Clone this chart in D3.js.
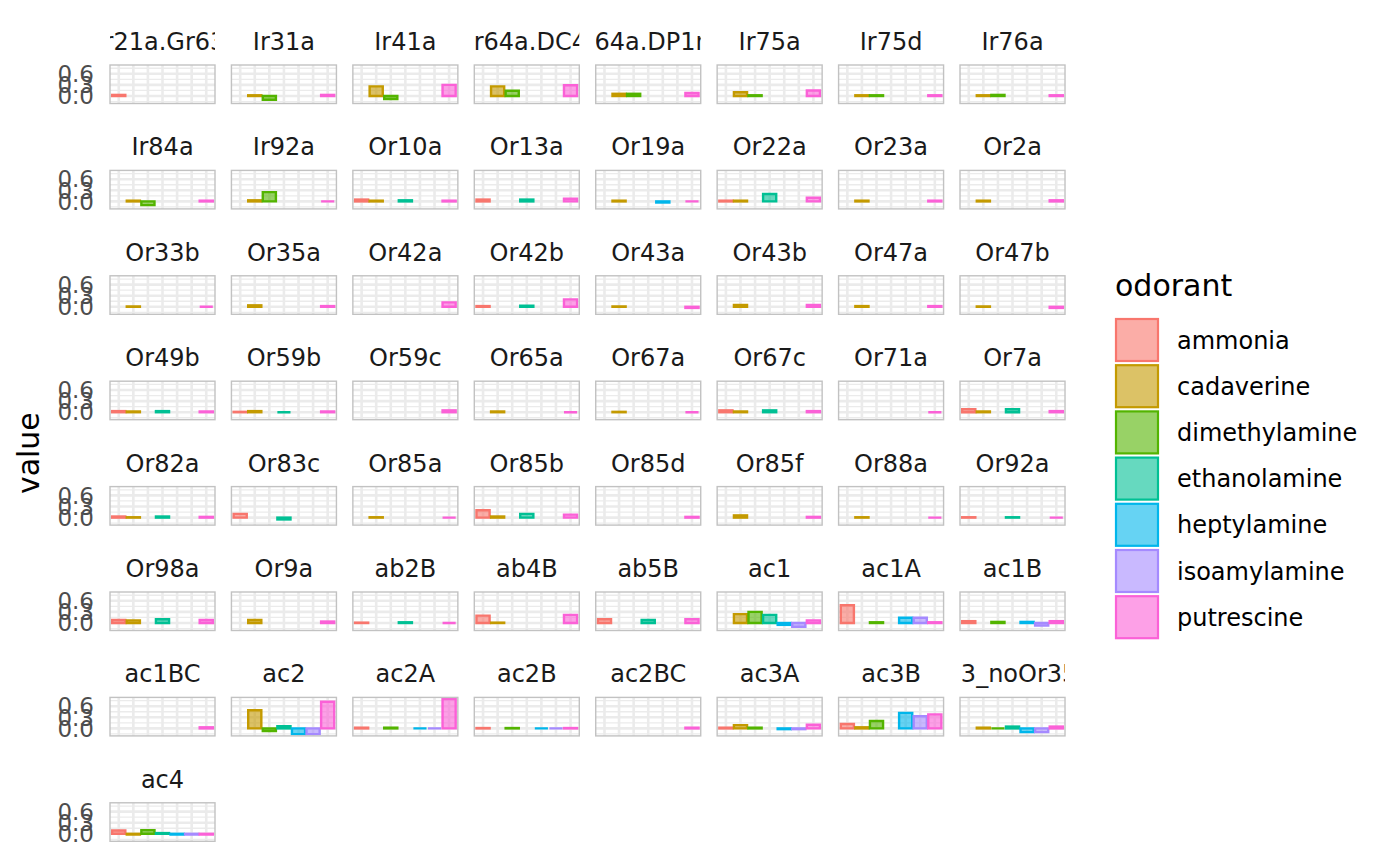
<!DOCTYPE html>
<html><head><meta charset="utf-8">
<script src="https://cdn.jsdelivr.net/npm/d3@7"></script>
<style>body{margin:0;background:#fff} text{font-family:"DejaVu Sans",sans-serif}</style>
</head><body><svg id="c" width="1400" height="866"></svg>
<script>
const _ = null;
const odorants = ["ammonia","cadaverine","dimethylamine","ethanolamine","heptylamine","isoamylamine","putrescine"];
const odorantColors = ["#F8766D","#C49A00","#53B400","#00C094","#00B6EB","#A58AFF","#FB61D7"];
const panels = ["Gr21a.Gr63a","Ir31a","Ir41a","Ir64a.DC4","Ir64a.DP1m","Ir75a","Ir75d","Ir76a",
  "Ir84a","Ir92a","Or10a","Or13a","Or19a","Or22a","Or23a","Or2a",
  "Or33b","Or35a","Or42a","Or42b","Or43a","Or43b","Or47a","Or47b",
  "Or49b","Or59b","Or59c","Or65a","Or67a","Or67c","Or71a","Or7a",
  "Or82a","Or83c","Or85a","Or85b","Or85d","Or85f","Or88a","Or92a",
  "Or98a","Or9a","ab2B","ab4B","ab5B","ac1","ac1A","ac1B",
  "ac1BC","ac2","ac2A","ac2B","ac2BC","ac3A","ac3B","ac3_noOr35a",
  "ac4"];
const ammonia = [0.03,_,_,_,_,_,_,_,
  _,_,0.05,0.05,_,0.02,_,_,
  _,_,_,0.02,_,_,_,_,
  0.03,0.01,_,_,_,0.05,_,0.08,
  0.03,0.1,_,0.2,_,_,_,0.01,
  0.08,_,0.01,0.2,0.1,_,0.48,0.05,
  _,_,0.02,0.01,_,0.02,0.12,_,
  0.09];
const cadaverine = [_,0.02,0.26,0.26,0.06,0.1,0.02,0.02,
  0.02,0.03,0.02,_,0.02,0.02,0.02,0.02,
  0.01,0.04,_,_,0.01,0.05,0.02,0.01,
  0.02,0.03,_,0.02,0.01,0.02,_,0.02,
  0.01,_,0.01,0.03,_,0.06,0.01,_,
  0.07,0.08,_,0.01,_,0.24,_,_,
  _,0.49,_,_,_,0.09,0.03,0.02,
  -0.02];
const dimethylamine = [_,-0.1,-0.08,0.14,0.06,0.02,0.02,0.03,
  -0.1,0.25,_,_,_,_,_,_,
  _,_,_,_,_,_,_,_,
  _,_,_,_,_,_,_,_,
  _,_,_,_,_,_,_,_,
  _,_,_,_,_,0.3,0.02,0.03,
  _,-0.07,0.02,0.01,_,0.02,0.2,0.0,
  0.1];
const ethanolamine = [_,_,_,_,_,_,_,_,
  _,_,0.03,0.05,_,0.2,_,_,
  _,_,_,0.03,_,_,_,_,
  0.03,0.0,_,_,_,0.05,_,0.08,
  0.03,-0.05,_,0.1,_,_,_,0.01,
  0.1,_,0.02,_,0.08,0.22,_,_,
  _,0.06,_,_,_,_,_,0.05,
  0.02];
const heptylamine = [_,_,_,_,_,_,_,_,
  _,_,_,_,-0.03,_,_,_,
  _,_,_,_,_,_,_,_,
  _,_,_,_,_,_,_,_,
  _,_,_,_,_,_,_,_,
  _,_,_,_,_,-0.05,0.14,0.03,
  _,-0.155,0.0,0.0,_,-0.02,0.42,-0.1,
  -0.02];
const isoamylamine = [_,_,_,_,_,_,_,_,
  _,_,_,_,_,_,_,_,
  _,_,_,_,_,_,_,_,
  _,_,_,_,_,_,_,_,
  _,_,_,_,_,_,_,_,
  _,_,_,_,_,-0.1,0.14,-0.07,
  _,-0.155,0.0,0.0,_,-0.02,0.33,-0.1,
  -0.02];
const putrescine = [_,0.03,0.3,0.29,0.08,0.15,0.02,0.02,
  0.02,0.0,0.02,0.07,0.0,0.1,0.02,0.03,
  0.0,0.02,0.12,0.2,-0.03,0.05,0.02,-0.03,
  0.02,0.02,0.05,0.0,0.0,0.03,0.0,0.03,
  0.02,_,0.0,0.08,0.02,0.02,0.0,0.0,
  0.08,0.04,0.0,0.22,0.1,0.07,0.02,0.05,
  0.03,0.72,0.79,0.01,0.02,0.1,0.38,0.05,
  -0.02];
const yBreaks = [0, 0.3, 0.6];
const yBreakLabels = ["0.0","0.3","0.6"];

const series = [ammonia,cadaverine,dimethylamine,ethanolamine,heptylamine,isoamylamine,putrescine];

// layout
const ncol = 8, panelW = 105, panelH = 38.5, left0 = 110, top0 = 65, colStep = 121.43, rowStep = 105.4;
const svg = d3.select("#c");
const color = d3.scaleOrdinal().domain(odorants).range(odorantColors);

const allVals = series.flat().filter(v => v !== null);
const vmin = Math.min(0, d3.min(allVals)), vmax = Math.max(0, d3.max(allVals));
const ex = (vmax - vmin) * 0.05;
const y = d3.scaleLinear().domain([vmin - ex, vmax + ex]).range([panelH, 0]);
const x = d3.scaleBand().domain(odorants).range([0, panelW]).paddingInner(0.1).paddingOuter(0.15);

// minor breaks
const step = yBreaks[1] - yBreaks[0];
const ext = [yBreaks[0] - step, ...yBreaks, yBreaks[yBreaks.length-1] + step];
const minor = [];
for (let i = 0; i < ext.length - 1; i++) minor.push((ext[i] + ext[i+1]) / 2);
const [d0, d1] = y.domain();
const minorIn = minor.filter(v => v >= d0 && v <= d1);

const defs = svg.append("defs");

panels.forEach((name, p) => {
  const c = p % ncol, r = Math.floor(p / ncol);
  const px = left0 + c * colStep, py = top0 + r * rowStep;
  const g = svg.append("g").attr("transform", `translate(${px},${py})`);
  // grid
  g.selectAll(".mi").data(minorIn).join("line")
    .attr("x1", 0).attr("x2", panelW).attr("y1", d => y(d)).attr("y2", d => y(d))
    .attr("stroke", "#EBEBEB").attr("stroke-width", 1.3);
  g.selectAll(".ma").data(yBreaks).join("line")
    .attr("x1", 0).attr("x2", panelW).attr("y1", d => y(d)).attr("y2", d => y(d))
    .attr("stroke", "#EBEBEB").attr("stroke-width", 2.6);
  g.selectAll(".mx").data(odorants).join("line")
    .attr("y1", 0).attr("y2", panelH)
    .attr("x1", d => x(d) + x.bandwidth()/2).attr("x2", d => x(d) + x.bandwidth()/2)
    .attr("stroke", "#EBEBEB").attr("stroke-width", 2.6);
  // bars (paths so that zero-height bars still show their outline)
  const data = odorants.map((o, i) => ({o, v: series[i][p]})).filter(d => d.v !== null);
  g.selectAll(".bar").data(data).join("path")
    .attr("d", d => {
      const x0 = x(d.o), w = x.bandwidth();
      const yt = y(Math.max(0, d.v)), yb = y(Math.min(0, d.v));
      return `M${x0},${yt}H${x0 + w}V${yb}H${x0}Z`;
    })
    .attr("fill", d => color(d.o)).attr("fill-opacity", 0.6)
    .attr("stroke", d => color(d.o)).attr("stroke-width", 2.4)
    .attr("stroke-linejoin", "miter");
  // border
  g.append("rect").attr("width", panelW).attr("height", panelH)
    .attr("fill", "none").attr("stroke", "#C2C2C2").attr("stroke-width", 1.4);
  // strip
  const cid = "clip" + p;
  defs.append("clipPath").attr("id", cid).append("rect")
    .attr("x", px).attr("y", py - 40).attr("width", panelW).attr("height", 38);
  svg.append("text").attr("clip-path", `url(#${cid})`)
    .attr("x", px + panelW/2).attr("y", py - 15)
    .attr("text-anchor", "middle").attr("font-size", 24).attr("fill", "#1A1A1A")
    .text(name);
  // y axis labels on first column
  if (c === 0) {
    svg.append("g").selectAll("text").data(yBreaks).join("text")
      .attr("x", px - 16).attr("y", d => py + y(d))
      .attr("dy", "0.36em").attr("text-anchor", "end")
      .attr("font-size", 23).attr("fill", "#4D4D4D")
      .text((d, i) => yBreakLabels[i]);
  }
});

// axis title
const nrow = Math.ceil(panels.length / ncol);
const midY = (top0 + (nrow - 1) * rowStep + panelH + top0) / 2;
svg.append("text").attr("transform", `translate(39,${midY}) rotate(-90)`)
  .attr("text-anchor", "middle").attr("font-size", 30).attr("fill", "#000").text("value");

// legend
const lg = svg.append("g").attr("transform", "translate(1115,0)");
lg.append("text").attr("x", 0).attr("y", 296).attr("font-size", 30).attr("fill", "#000").text("odorant");
const items = lg.selectAll(".li").data(odorants).join("g")
  .attr("transform", (d, i) => `translate(0,${318 + i * 46.2})`);
items.append("rect").attr("x", 1).attr("y", 1).attr("width", 42).attr("height", 42)
  .attr("fill", d => color(d)).attr("fill-opacity", 0.6)
  .attr("stroke", d => color(d)).attr("stroke-width", 2.2);
items.append("text").attr("x", 62).attr("y", 22).attr("dy", "0.36em")
  .attr("font-size", 24).attr("fill", "#000").text(d => d);
</script></body></html>
